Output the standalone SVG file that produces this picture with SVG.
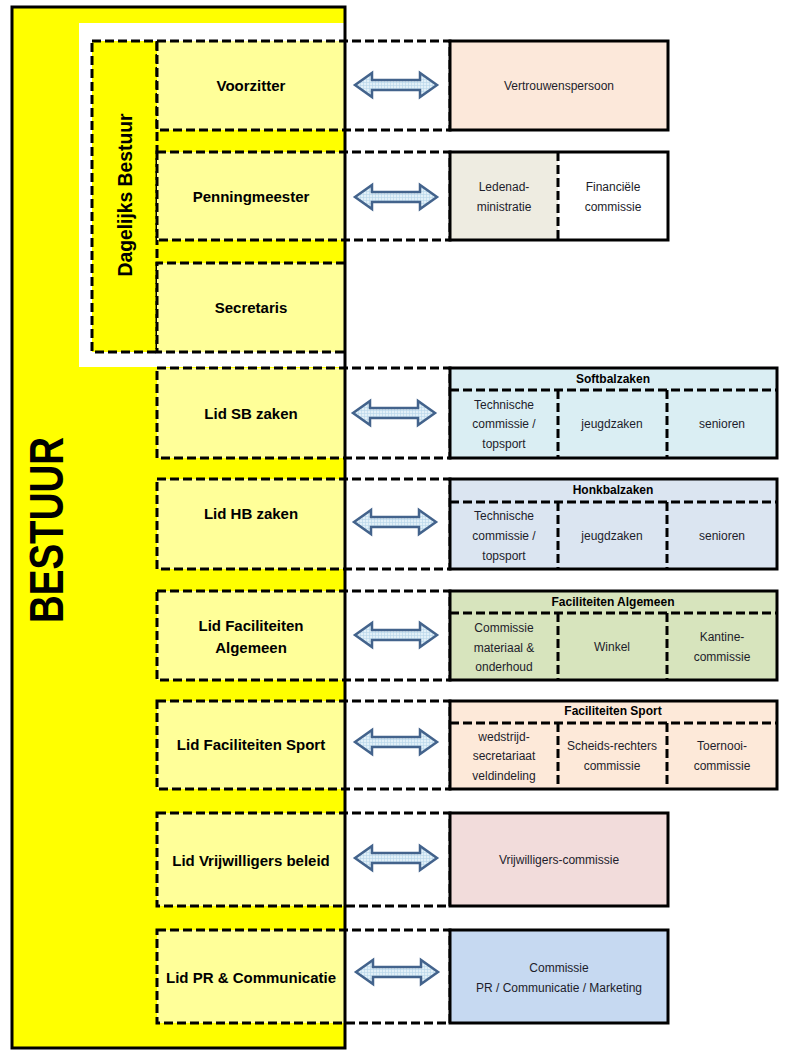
<svg xmlns="http://www.w3.org/2000/svg" width="790" height="1058" viewBox="0 0 790 1058">
<defs>
<pattern id="grid" width="3" height="3" patternUnits="userSpaceOnUse">
<rect width="3" height="3" fill="#E2F0F8"/>
<path d="M0 0.5H3M0.5 0V3" stroke="#B7D5EA" stroke-width="0.6"/>
</pattern>
<path id="arr" d="M-41,0 L-24,-12 L-24,-5 L24,-5 L24,-12 L41,0 L24,12 L24,5 L-24,5 L-24,12 Z"/>
</defs>
<style>
.dash{fill:none;stroke:#000;stroke-width:3;stroke-dasharray:9 4}
.solid{stroke:#000;stroke-width:3}
.lbl{font-family:"Liberation Sans",Arial,sans-serif;font-weight:bold;font-size:15px;fill:#000;text-anchor:middle;dominant-baseline:central}
.sub{font-family:"Liberation Sans",Arial,sans-serif;font-size:12px;fill:#1d1d2b;text-anchor:middle;dominant-baseline:central}
.hdr{font-family:"Liberation Sans",Arial,sans-serif;font-weight:bold;font-size:12px;fill:#000;text-anchor:middle;dominant-baseline:central}
.arrow{fill:url(#grid);stroke:#43638C;stroke-width:2.5;stroke-linejoin:miter}
.ry{fill:#FFFF99}
</style>

<!-- Bestuur outer -->
<g id="bestuur">
<rect x="12" y="7" width="333" height="1041" fill="#FFFF00"/>
<rect x="79" y="23" width="266" height="344" fill="#FFFFFF"/>
<rect x="92" y="41" width="253" height="311" fill="#FFFF00"/>
<text class="lbl" transform="translate(46,530) rotate(-90)" style="font-size:48px" textLength="186" lengthAdjust="spacingAndGlyphs">BESTUUR</text>
</g>

<g id="dagelijks-bestuur">
<rect x="92" y="41" width="65" height="311" class="dash"/>
<text class="lbl" style="font-size:20px" transform="translate(125,195) rotate(-90)" textLength="163" lengthAdjust="spacingAndGlyphs">Dagelijks Bestuur</text>
</g>

<!-- row fills -->
<g id="row-fills">
<rect class="ry" x="157" y="41" width="188" height="89"/>
<rect class="ry" x="157" y="152" width="188" height="88"/>
<rect class="ry" x="157" y="263" width="188" height="89"/>
<rect class="ry" x="157" y="368" width="188" height="90"/>
<rect class="ry" x="157" y="479" width="188" height="90"/>
<rect class="ry" x="157" y="591" width="188" height="89"/>
<rect class="ry" x="157" y="701" width="188" height="88"/>
<rect class="ry" x="157" y="813" width="188" height="93"/>
<rect class="ry" x="157" y="930" width="188" height="93"/>
</g>

<rect x="12" y="7" width="333" height="1041" fill="none" class="solid"/>

<g id="voorzitter">
<rect class="dash" x="157" y="41" width="293" height="89"/>
<text class="lbl" x="251" y="85">Voorzitter</text>
</g>
<g id="penningmeester">
<rect class="dash" x="157" y="152" width="293" height="88"/>
<text class="lbl" x="251" y="196">Penningmeester</text>
</g>
<g id="secretaris">
<path class="dash" d="M345,263 H157 V352 H345"/>
<text class="lbl" x="251" y="307">Secretaris</text>
</g>
<g id="lid-sb">
<rect class="dash" x="157" y="368" width="293" height="90"/>
<text class="lbl" x="251" y="413">Lid SB zaken</text>
</g>
<g id="lid-hb">
<rect class="dash" x="157" y="479" width="293" height="90"/>
<text class="lbl" x="251" y="513">Lid HB zaken</text>
</g>
<g id="lid-fac-alg">
<rect class="dash" x="157" y="591" width="293" height="89"/>
<text class="lbl" x="251" y="625">Lid Faciliteiten</text>
<text class="lbl" x="251" y="647">Algemeen</text>
</g>
<g id="lid-fac-sport">
<rect class="dash" x="157" y="701" width="293" height="88"/>
<text class="lbl" x="251" y="744">Lid Faciliteiten Sport</text>
</g>
<g id="lid-vrijw">
<rect class="dash" x="157" y="813" width="293" height="93"/>
<text class="lbl" x="251" y="860">Lid Vrijwilligers beleid</text>
</g>
<g id="lid-pr">
<rect class="dash" x="157" y="930" width="293" height="93"/>
<text class="lbl" x="251" y="977">Lid PR &amp; Communicatie</text>
</g>

<!-- right boxes -->
<g id="vertrouwenspersoon">
<rect class="solid" x="450" y="41" width="218" height="89" fill="#FCE8DA"/>
<text class="sub" x="559" y="86">Vertrouwenspersoon</text>
</g>
<g id="penning-commissies">
<rect x="450" y="152" width="108" height="88" fill="#EEECE1"/>
<rect x="558" y="152" width="110" height="88" fill="#FFFFFF"/>
<rect class="solid" x="450" y="152" width="218" height="88" fill="none"/>
<line class="dash" x1="558" y1="152" x2="558" y2="240"/>
<text class="sub" x="504" y="187">Ledenad-</text>
<text class="sub" x="504" y="207">ministratie</text>
<text class="sub" x="613" y="187">Financiële</text>
<text class="sub" x="613" y="207">commissie</text>
</g>
<g id="softbalzaken">
<rect class="solid" x="450" y="368" width="327" height="90" fill="#DAEEF3"/>
<line class="dash" x1="450" y1="390" x2="777" y2="390"/>
<line class="dash" x1="558" y1="390" x2="558" y2="458"/>
<line class="dash" x1="667" y1="390" x2="667" y2="458"/>
<text class="hdr" x="613" y="379">Softbalzaken</text>
<text class="sub" x="504" y="405">Technische</text>
<text class="sub" x="504" y="424">commissie /</text>
<text class="sub" x="504" y="444">topsport</text>
<text class="sub" x="612" y="424">jeugdzaken</text>
<text class="sub" x="722" y="424">senioren</text>
</g>
<g id="honkbalzaken">
<rect class="solid" x="450" y="479" width="327" height="90" fill="#DBE5F1"/>
<line class="dash" x1="450" y1="502" x2="777" y2="502"/>
<line class="dash" x1="558" y1="502" x2="558" y2="569"/>
<line class="dash" x1="667" y1="502" x2="667" y2="569"/>
<text class="hdr" x="613" y="490">Honkbalzaken</text>
<text class="sub" x="504" y="516">Technische</text>
<text class="sub" x="504" y="536">commissie /</text>
<text class="sub" x="504" y="556">topsport</text>
<text class="sub" x="612" y="536">jeugdzaken</text>
<text class="sub" x="722" y="536">senioren</text>
</g>
<g id="faciliteiten-algemeen">
<rect class="solid" x="450" y="591" width="327" height="89" fill="#D7E4BD"/>
<line class="dash" x1="450" y1="613" x2="777" y2="613"/>
<line class="dash" x1="558" y1="613" x2="558" y2="680"/>
<line class="dash" x1="667" y1="613" x2="667" y2="680"/>
<text class="hdr" x="613" y="602">Faciliteiten Algemeen</text>
<text class="sub" x="504" y="628">Commissie</text>
<text class="sub" x="504" y="648">materiaal &amp;</text>
<text class="sub" x="504" y="667">onderhoud</text>
<text class="sub" x="612" y="647">Winkel</text>
<text class="sub" x="722" y="637">Kantine-</text>
<text class="sub" x="722" y="657">commissie</text>
</g>
<g id="faciliteiten-sport">
<rect class="solid" x="450" y="701" width="327" height="88" fill="#FDE9D9"/>
<line class="dash" x1="450" y1="723" x2="777" y2="723"/>
<line class="dash" x1="558" y1="723" x2="558" y2="789"/>
<line class="dash" x1="667" y1="723" x2="667" y2="789"/>
<text class="hdr" x="613" y="711">Faciliteiten Sport</text>
<text class="sub" x="504" y="737">wedstrijd-</text>
<text class="sub" x="504" y="756">secretariaat</text>
<text class="sub" x="504" y="776">veldindeling</text>
<text class="sub" x="612" y="746">Scheids-rechters</text>
<text class="sub" x="612" y="766">commissie</text>
<text class="sub" x="722" y="746">Toernooi-</text>
<text class="sub" x="722" y="766">commissie</text>
</g>
<g id="vrijwilligers-commissie">
<rect class="solid" x="450" y="813" width="218" height="93" fill="#F2DCDB"/>
<text class="sub" x="559" y="860">Vrijwilligers-commissie</text>
</g>
<g id="pr-commissie">
<rect class="solid" x="450" y="930" width="218" height="93" fill="#C6D9F1"/>
<text class="sub" x="559" y="968">Commissie</text>
<text class="sub" x="559" y="988">PR / Communicatie / Marketing</text>
</g>

<!-- connectors -->
<g id="connectors" class="arrow">
<use href="#arr" transform="translate(396,85)"/>
<use href="#arr" transform="translate(396,197)"/>
<use href="#arr" transform="translate(394,413)"/>
<use href="#arr" transform="translate(395,522)"/>
<use href="#arr" transform="translate(396,635)"/>
<use href="#arr" transform="translate(396,742)"/>
<use href="#arr" transform="translate(396,858)"/>
<use href="#arr" transform="translate(397,972)"/>
</g>
</svg>
